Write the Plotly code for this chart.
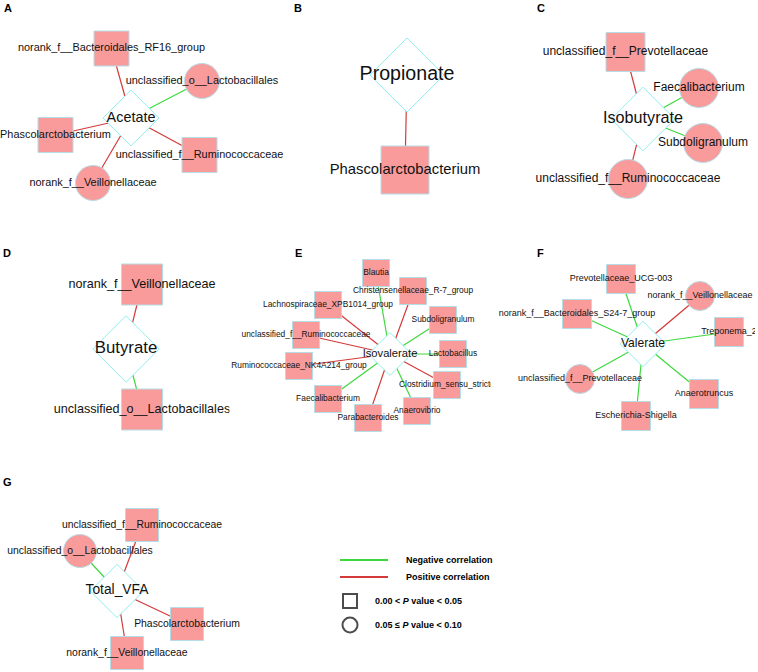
import plotly.graph_objects as go

# ---------------- data ----------------
PANEL_LETTERS = ["A", "B", "C", "D", "E", "F", "G"]
HUBS = ["Acetate", "Propionate", "Isobutyrate", "Butyrate", "Isovalerate", "Valerate", "Total_VFA"]

ACETATE_TAXA = ["norank_f__Bacteroidales_RF16_group", "unclassified_o__Lactobacillales",
                "Phascolarctobacterium", "unclassified_f__Ruminococcaceae", "norank_f__Veillonellaceae"]
ACETATE_CORR = ["pos", "neg", "pos", "pos", "pos"]
ACETATE_P = ["p<0.05", "p<0.10", "p<0.05", "p<0.05", "p<0.10"]

PROPIONATE_TAXA = ["Phascolarctobacterium"]
PROPIONATE_CORR = ["pos"]
PROPIONATE_P = ["p<0.05"]

ISOBUTYRATE_TAXA = ["unclassified_f__Prevotellaceae", "Faecalibacterium", "Subdoligranulum",
                    "unclassified_f__Ruminococcaceae"]
ISOBUTYRATE_CORR = ["pos", "neg", "neg", "pos"]
ISOBUTYRATE_P = ["p<0.05", "p<0.10", "p<0.10", "p<0.10"]

BUTYRATE_TAXA = ["norank_f__Veillonellaceae", "unclassified_o__Lactobacillales"]
BUTYRATE_CORR = ["pos", "neg"]
BUTYRATE_P = ["p<0.05", "p<0.05"]

ISOVALERATE_TAXA = ["Blautia", "Christensenellaceae_R-7_group", "Subdoligranulum", "Lactobacillus",
                    "Clostridium_sensu_stricto", "Anaerovibrio", "Parabacteroides", "Faecalibacterium",
                    "Ruminococcaceae_NK4A214_group", "unclassified_f__Ruminococcaceae",
                    "Lachnospiraceae_XPB1014_group"]
ISOVALERATE_CORR = ["neg", "pos", "neg", "neg", "pos", "neg", "pos", "neg", "pos", "pos", "pos"]
ISOVALERATE_P = ["p<0.05"] * 11

VALERATE_TAXA = ["Prevotellaceae_UCG-003", "norank_f__Veillonellaceae", "norank_f__Bacteroidales_S24-7_group",
                 "Treponema_2", "unclassified_f__Prevotellaceae", "Escherichia-Shigella", "Anaerotruncus"]
VALERATE_CORR = ["neg", "pos", "neg", "neg", "neg", "neg", "neg"]
VALERATE_P = ["p<0.05", "p<0.10", "p<0.05", "p<0.05", "p<0.10", "p<0.05", "p<0.05"]

TOTALVFA_TAXA = ["unclassified_f__Ruminococcaceae", "unclassified_o__Lactobacillales",
                 "Phascolarctobacterium", "norank_f__Veillonellaceae"]
TOTALVFA_CORR = ["pos", "neg", "pos", "pos"]
TOTALVFA_P = ["p<0.05", "p<0.10", "p<0.05", "p<0.05"]

LEGEND_EDGE_LABELS = ["Negative correlation", "Positive correlation"]
LEGEND_P_LABELS = ["0.00 &lt; <i>P</i> value &lt; 0.05", "0.05 ≤ <i>P</i> value &lt; 0.10"]

DATA = [
    (ACETATE_TAXA, ACETATE_CORR, ACETATE_P),
    (PROPIONATE_TAXA, PROPIONATE_CORR, PROPIONATE_P),
    (ISOBUTYRATE_TAXA, ISOBUTYRATE_CORR, ISOBUTYRATE_P),
    (BUTYRATE_TAXA, BUTYRATE_CORR, BUTYRATE_P),
    (ISOVALERATE_TAXA, ISOVALERATE_CORR, ISOVALERATE_P),
    (VALERATE_TAXA, VALERATE_CORR, VALERATE_P),
    (TOTALVFA_TAXA, TOTALVFA_CORR, TOTALVFA_P),
]

# ---------------- layout (network positions, sizes, styles) ----------------
W, H = 758, 672
NET_LAYOUT = [
    dict(rect=(0, 292, 0, 222), letter=(8, 8), hub=(131, 118), hub_size=43, hub_font=14.4,
         node_size=35, font=10.9,
         nodes=[(111.5, 48.5), (202, 81), (55.5, 135), (199.5, 155), (93, 183)]),
    dict(rect=(292, 500, 0, 222), letter=(298, 8), hub=(407, 75), hub_size=57, hub_font=19.6,
         node_size=48, font=14.8,
         nodes=[(405, 170)]),
    dict(rect=(500, 758, 0, 222), letter=(541, 8), hub=(643, 119), hub_size=49, hub_font=16.2,
         node_size=39, font=12.0,
         nodes=[(625.5, 52), (699, 88), (703, 143), (628, 179)]),
    dict(rect=(0, 229.5, 222, 452), letter=(7, 253), hub=(126, 349), hub_size=51, hub_font=16.8,
         node_size=41, font=12.6,
         nodes=[(142, 284.5), (142, 409.5)]),
    dict(rect=(228, 491, 222, 452), letter=(298, 253), hub=(390, 354), hub_size=33, hub_font=11.2,
         node_size=27, font=8.4,
         nodes=[(376, 273), (413, 291), (443, 320), (453, 354), (447, 385), (417, 411),
                (368, 418), (328, 399), (299, 366), (306, 335), (328, 305)]),
    dict(rect=(492, 755, 222, 452), letter=(540, 253), hub=(643, 344), hub_size=35, hub_font=12.1,
         node_size=29, font=9.0,
         nodes=[(621, 279), (700, 296), (577, 314), (729, 332), (580, 379), (636, 416), (704, 394)]),
    dict(rect=(0, 270, 452, 672), letter=(7, 482), hub=(117, 591), hub_size=41, hub_font=13.8,
         node_size=33, font=10.4,
         nodes=[(142, 525), (80, 551), (187, 624), (127, 653)]),
]

FONT = "Arial, Liberation Sans, sans-serif"
NODE_FILL = "#F99B9B"
NODE_LINE = "#B5DDE6"
HUB_LINE = "#93EEEE"
EDGE_COL = {"pos": "#D43A3A", "neg": "#3ED83E"}
SYMBOL = {"p<0.05": "square", "p<0.10": "circle"}

fig = go.Figure()
layout_axes = {}

for i, ((taxa, corr, pcls), L) in enumerate(zip(DATA, NET_LAYOUT)):
    k = i + 1
    xa = "x" if k == 1 else f"x{k}"
    ya = "y" if k == 1 else f"y{k}"
    x0, x1, y0, y1 = L["rect"]
    xname = "xaxis" if k == 1 else f"xaxis{k}"
    yname = "yaxis" if k == 1 else f"yaxis{k}"
    layout_axes[xname] = dict(domain=[x0 / W, x1 / W], range=[x0, x1], visible=False,
                              fixedrange=True, anchor=ya)
    layout_axes[yname] = dict(domain=[1 - y1 / H, 1 - y0 / H], range=[y1, y0], visible=False,
                              fixedrange=True, anchor=xa)
    hx, hy = L["hub"]
    # edges
    for sign in ["pos", "neg"]:
        ex, ey = [], []
        for (nx, ny), c in zip(L["nodes"], corr):
            if c == sign:
                ex += [nx, hx, None]
                ey += [ny, hy, None]
        if ex:
            fig.add_trace(go.Scatter(x=ex, y=ey, mode="lines", xaxis=xa, yaxis=ya,
                                     line=dict(color=EDGE_COL[sign], width=1.2),
                                     hoverinfo="skip", showlegend=False))
    # nodes
    fig.add_trace(go.Scatter(
        x=[p[0] for p in L["nodes"]], y=[p[1] for p in L["nodes"]], mode="markers",
        xaxis=xa, yaxis=ya,
        marker=dict(symbol=[SYMBOL[p] for p in pcls], size=L["node_size"], color=NODE_FILL,
                    line=dict(color=NODE_LINE, width=1)),
        hoverinfo="skip", showlegend=False))
    # hub diamond
    fig.add_trace(go.Scatter(
        x=[hx], y=[hy], mode="markers", xaxis=xa, yaxis=ya,
        marker=dict(symbol="diamond", size=L["hub_size"], color="white",
                    line=dict(color=HUB_LINE, width=1)),
        hoverinfo="skip", showlegend=False))
    # node labels
    fig.add_trace(go.Scatter(
        x=[p[0] for p in L["nodes"]], y=[p[1] for p in L["nodes"]], mode="text",
        xaxis=xa, yaxis=ya, text=taxa, textposition="middle center",
        textfont=dict(family=FONT, size=L["font"], color="#111111"),
        hoverinfo="skip", showlegend=False))
    # hub label
    fig.add_trace(go.Scatter(
        x=[hx], y=[hy], mode="text", xaxis=xa, yaxis=ya, text=[HUBS[i]],
        textposition="middle center",
        textfont=dict(family=FONT, size=L["hub_font"], color="#111111"),
        hoverinfo="skip", showlegend=False))

# global overlay axis for letters and legend
layout_axes["xaxis8"] = dict(domain=[0, 1], range=[0, W], visible=False, fixedrange=True, anchor="y8")
layout_axes["yaxis8"] = dict(domain=[0, 1], range=[H, 0], visible=False, fixedrange=True, anchor="x8")

annotations = []
for letter, L in zip(PANEL_LETTERS, NET_LAYOUT):
    lx, ly = L["letter"]
    annotations.append(dict(x=lx, y=ly, xref="x8", yref="y8", text=f"<b>{letter}</b>",
                            showarrow=False, font=dict(family=FONT, size=11, color="black"),
                            xanchor="center", yanchor="middle"))

# legend: edge colours
LEG_LINE_X = (340, 388)
LEG_ROWS_Y = [560, 577]
for lab, sign, yy in zip(LEGEND_EDGE_LABELS, ["neg", "pos"], LEG_ROWS_Y):
    fig.add_trace(go.Scatter(x=list(LEG_LINE_X), y=[yy, yy], mode="lines", xaxis="x8", yaxis="y8",
                             line=dict(color=EDGE_COL[sign], width=2), hoverinfo="skip",
                             showlegend=False))
    annotations.append(dict(x=404, y=yy, xref="x8", yref="y8", text=f"<b>{lab}</b>", showarrow=False,
                            font=dict(family=FONT, size=9, color="black"),
                            xanchor="left", yanchor="middle"))
# legend: p-value shapes
P_ROWS_Y = [601, 625]
fig.add_trace(go.Scatter(x=[350, 350], y=P_ROWS_Y, mode="markers", xaxis="x8", yaxis="y8",
                         marker=dict(symbol=["square-open", "circle-open"], size=[14, 15],
                                     color="black", line=dict(width=2, color="black")),
                         hoverinfo="skip", showlegend=False))
for lab, yy in zip(LEGEND_P_LABELS, P_ROWS_Y):
    annotations.append(dict(x=373, y=yy, xref="x8", yref="y8", text=f"<b>{lab}</b>", showarrow=False,
                            font=dict(family=FONT, size=9, color="black"),
                            xanchor="left", yanchor="middle"))

fig.update_layout(
    width=W, height=H, margin=dict(l=0, r=0, t=0, b=0),
    paper_bgcolor="white", plot_bgcolor="rgba(0,0,0,0)",
    showlegend=False, annotations=annotations, **layout_axes)

fig.write_html("out.html", config={"displayModeBar": False, "staticPlot": True},
               post_script="document.body.style.margin='0';document.body.style.overflow='hidden';")
